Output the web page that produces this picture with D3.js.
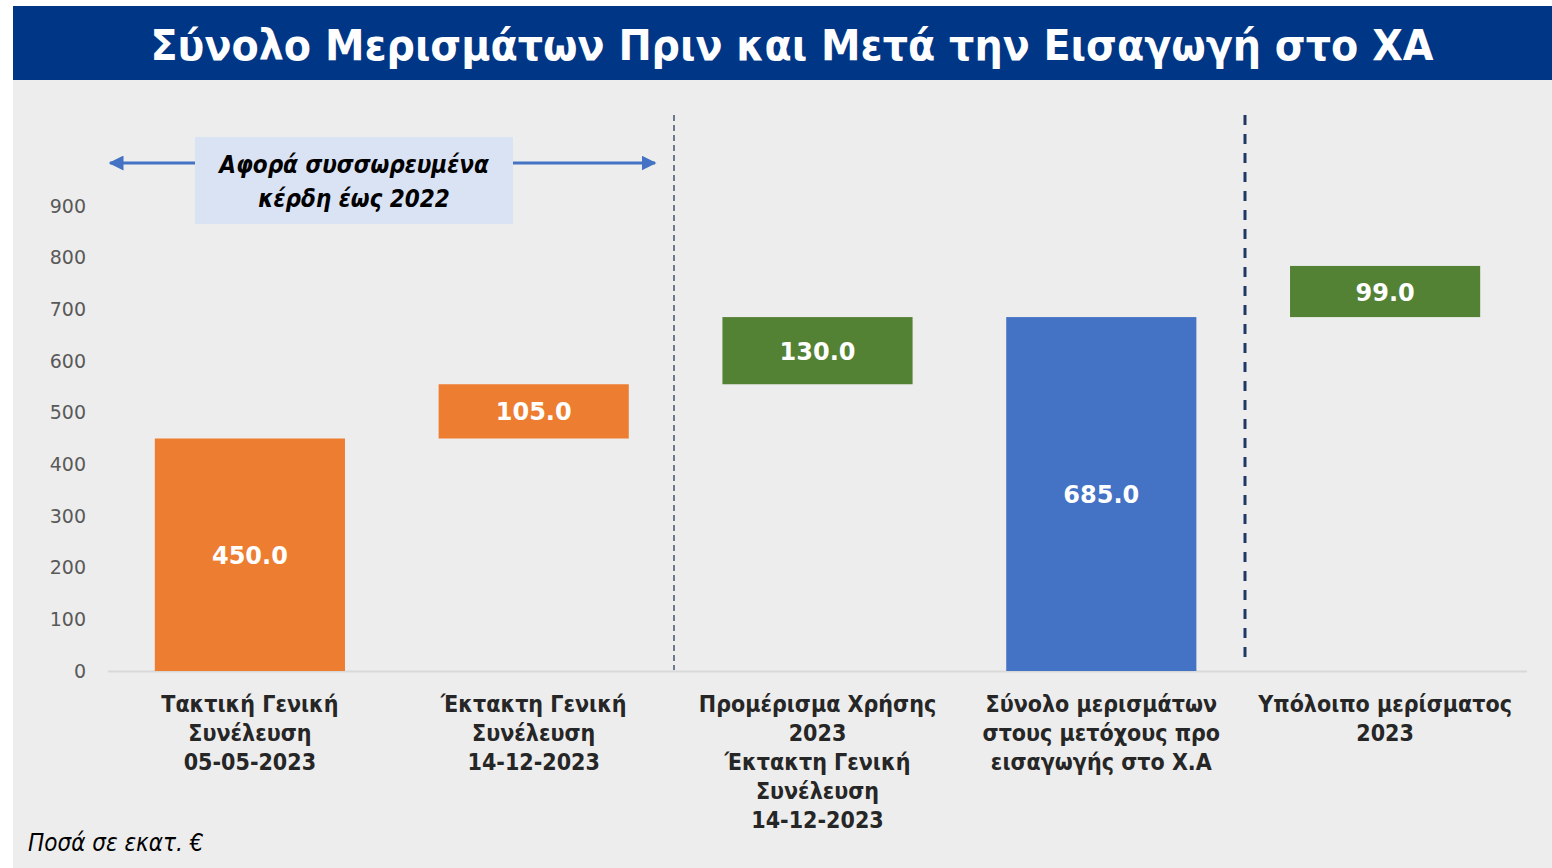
<!DOCTYPE html>
<html>
<head>
<meta charset="utf-8">
<script src="https://cdn.jsdelivr.net/npm/d3@7"></script>
<style>
  body { margin: 0; background: #fff; }
  svg { display: block; }
</style>
</head>
<body>
<div id="chart"></div>
<script>
// Data
const categories = [
  ['Τακτική Γενική', 'Συνέλευση', '05-05-2023'],
  ['Έκτακτη Γενική', 'Συνέλευση', '14-12-2023'],
  ['Προμέρισμα Χρήσης', '2023', 'Έκτακτη Γενική', 'Συνέλευση', '14-12-2023'],
  ['Σύνολο μερισμάτων', 'στους μετόχους προ', 'εισαγωγής στο Χ.Α'],
  ['Υπόλοιπο μερίσματος', '2023']
]
const starts = [0, 450, 555, 0, 685]
const values = [450, 105, 130, 685, 99]
const kinds = ['final', 'final', 'interim', 'total', 'interim']
const yTicks = [0, 100, 200, 300, 400, 500, 600, 700, 800, 900]

const palette = { final: '#ed7d31', interim: '#548235', total: '#4472c4' }

const width = 1552, height = 868
const svg = d3.select('#chart').append('svg')
  .attr('width', width)
  .attr('height', height)

// Background + title band
svg.append('rect').attr('x', 13).attr('y', 80).attr('width', width - 13).attr('height', height - 80).attr('fill', '#ededed')
svg.append('rect').attr('x', 13).attr('y', 6).attr('width', width - 13).attr('height', 74).attr('fill', '#003686')
svg.append('text')
  .attr('x', 792).attr('y', 60)
  .attr('text-anchor', 'middle')
  .attr('fill', '#fff')
  .style('font', 'bold 42px "DejaVu Sans", Verdana, sans-serif')
  .attr('textLength', 1283).attr('lengthAdjust', 'spacingAndGlyphs')
  .text('Σύνολο Μερισμάτων Πριν και Μετά την Εισαγωγή στο ΧΑ')

// Scales
const x = d3.scaleBand()
  .domain(d3.range(categories.length))
  .range([108, 1527])
  .paddingInner(0.33)
  .paddingOuter(0.165)
const y = d3.scaleLinear()
  .domain([0, 900])
  .range([671, 206])

// Y axis (labels only)
const yAxis = svg.append('g')
  .attr('transform', 'translate(86,0)')
  .call(d3.axisLeft(y).tickValues(yTicks).tickSize(0).tickPadding(0))
yAxis.select('.domain').remove()
yAxis.selectAll('text')
  .attr('fill', '#595959')
  .style('font', '19px "DejaVu Sans", Verdana, sans-serif')

// Baseline
svg.append('line')
  .attr('x1', 108).attr('x2', 1527)
  .attr('y1', y(0) + 0.5).attr('y2', y(0) + 0.5)
  .attr('stroke', '#d9d9d9').attr('stroke-width', 2)

// Separators
svg.append('line')
  .attr('x1', 674).attr('x2', 674).attr('y1', 115).attr('y2', 670)
  .attr('stroke', '#44546a').attr('stroke-width', 1.5).attr('stroke-dasharray', '6,4')
svg.append('line')
  .attr('x1', 1245).attr('x2', 1245).attr('y1', 115).attr('y2', 666)
  .attr('stroke', '#1f3864').attr('stroke-width', 3).attr('stroke-dasharray', '10,9')

// Bars
const bars = svg.append('g').selectAll('g.bar')
  .data(values)
  .join('g')
  .attr('class', 'bar')
bars.append('rect')
  .attr('x', (d, i) => x(i))
  .attr('width', x.bandwidth())
  .attr('y', (d, i) => y(starts[i] + d))
  .attr('height', (d, i) => y(starts[i]) - y(starts[i] + d))
  .attr('fill', (d, i) => palette[kinds[i]])
bars.append('text')
  .attr('x', (d, i) => x(i) + x.bandwidth() / 2)
  .attr('y', (d, i) => (y(starts[i]) + y(starts[i] + d)) / 2)
  .attr('dy', '0.38em')
  .attr('text-anchor', 'middle')
  .attr('fill', '#fff')
  .style('font', 'bold 24px "DejaVu Sans", Verdana, sans-serif')
  .text(d => d.toFixed(1))

// Category labels
svg.append('g').selectAll('text')
  .data(categories)
  .join('text')
  .attr('x', (d, i) => x(i) + x.bandwidth() / 2)
  .attr('y', 712)
  .attr('text-anchor', 'middle')
  .attr('fill', '#262626')
  .style('font', 'bold 23px "DejaVu Sans Condensed", "DejaVu Sans", sans-serif')
  .each(function(lines) {
    d3.select(this).selectAll('tspan')
      .data(lines)
      .join('tspan')
      .attr('x', d3.select(this).attr('x'))
      .attr('dy', (l, j) => j === 0 ? 0 : 29)
      .text(l => l)
  })

// Annotation with arrows
const arrowColor = '#4472c4'
const defs = svg.append('defs')
defs.append('marker')
  .attr('id', 'head')
  .attr('viewBox', '0 0 10 10')
  .attr('refX', 9).attr('refY', 5)
  .attr('markerWidth', 5).attr('markerHeight', 5)
  .attr('orient', 'auto-start-reverse')
  .append('path').attr('d', 'M0,0L10,5L0,10Z').attr('fill', arrowColor)
svg.append('line')
  .attr('x1', 195).attr('x2', 110).attr('y1', 163).attr('y2', 163)
  .attr('stroke', arrowColor).attr('stroke-width', 3).attr('marker-end', 'url(#head)')
svg.append('line')
  .attr('x1', 513).attr('x2', 655).attr('y1', 163).attr('y2', 163)
  .attr('stroke', arrowColor).attr('stroke-width', 3).attr('marker-end', 'url(#head)')
svg.append('rect')
  .attr('x', 195).attr('y', 137).attr('width', 318).attr('height', 87)
  .attr('fill', '#dae3f3')
svg.append('text')
  .attr('x', 354).attr('y', 173)
  .attr('text-anchor', 'middle')
  .attr('fill', '#000')
  .style('font', 'italic bold 24px "DejaVu Sans Condensed", "DejaVu Sans", sans-serif')
  .selectAll('tspan')
  .data(['Αφορά συσσωρευμένα', 'κέρδη έως 2022'])
  .join('tspan')
  .attr('x', 354)
  .attr('dy', (l, j) => j === 0 ? 0 : 34)
  .text(l => l)

// Footnote
svg.append('text')
  .attr('x', 28).attr('y', 851)
  .attr('fill', '#000')
  .style('font', 'italic 24px "DejaVu Sans Condensed", "DejaVu Sans", sans-serif')
  .text('Ποσά σε εκατ. €')
</script>
</body>
</html>
